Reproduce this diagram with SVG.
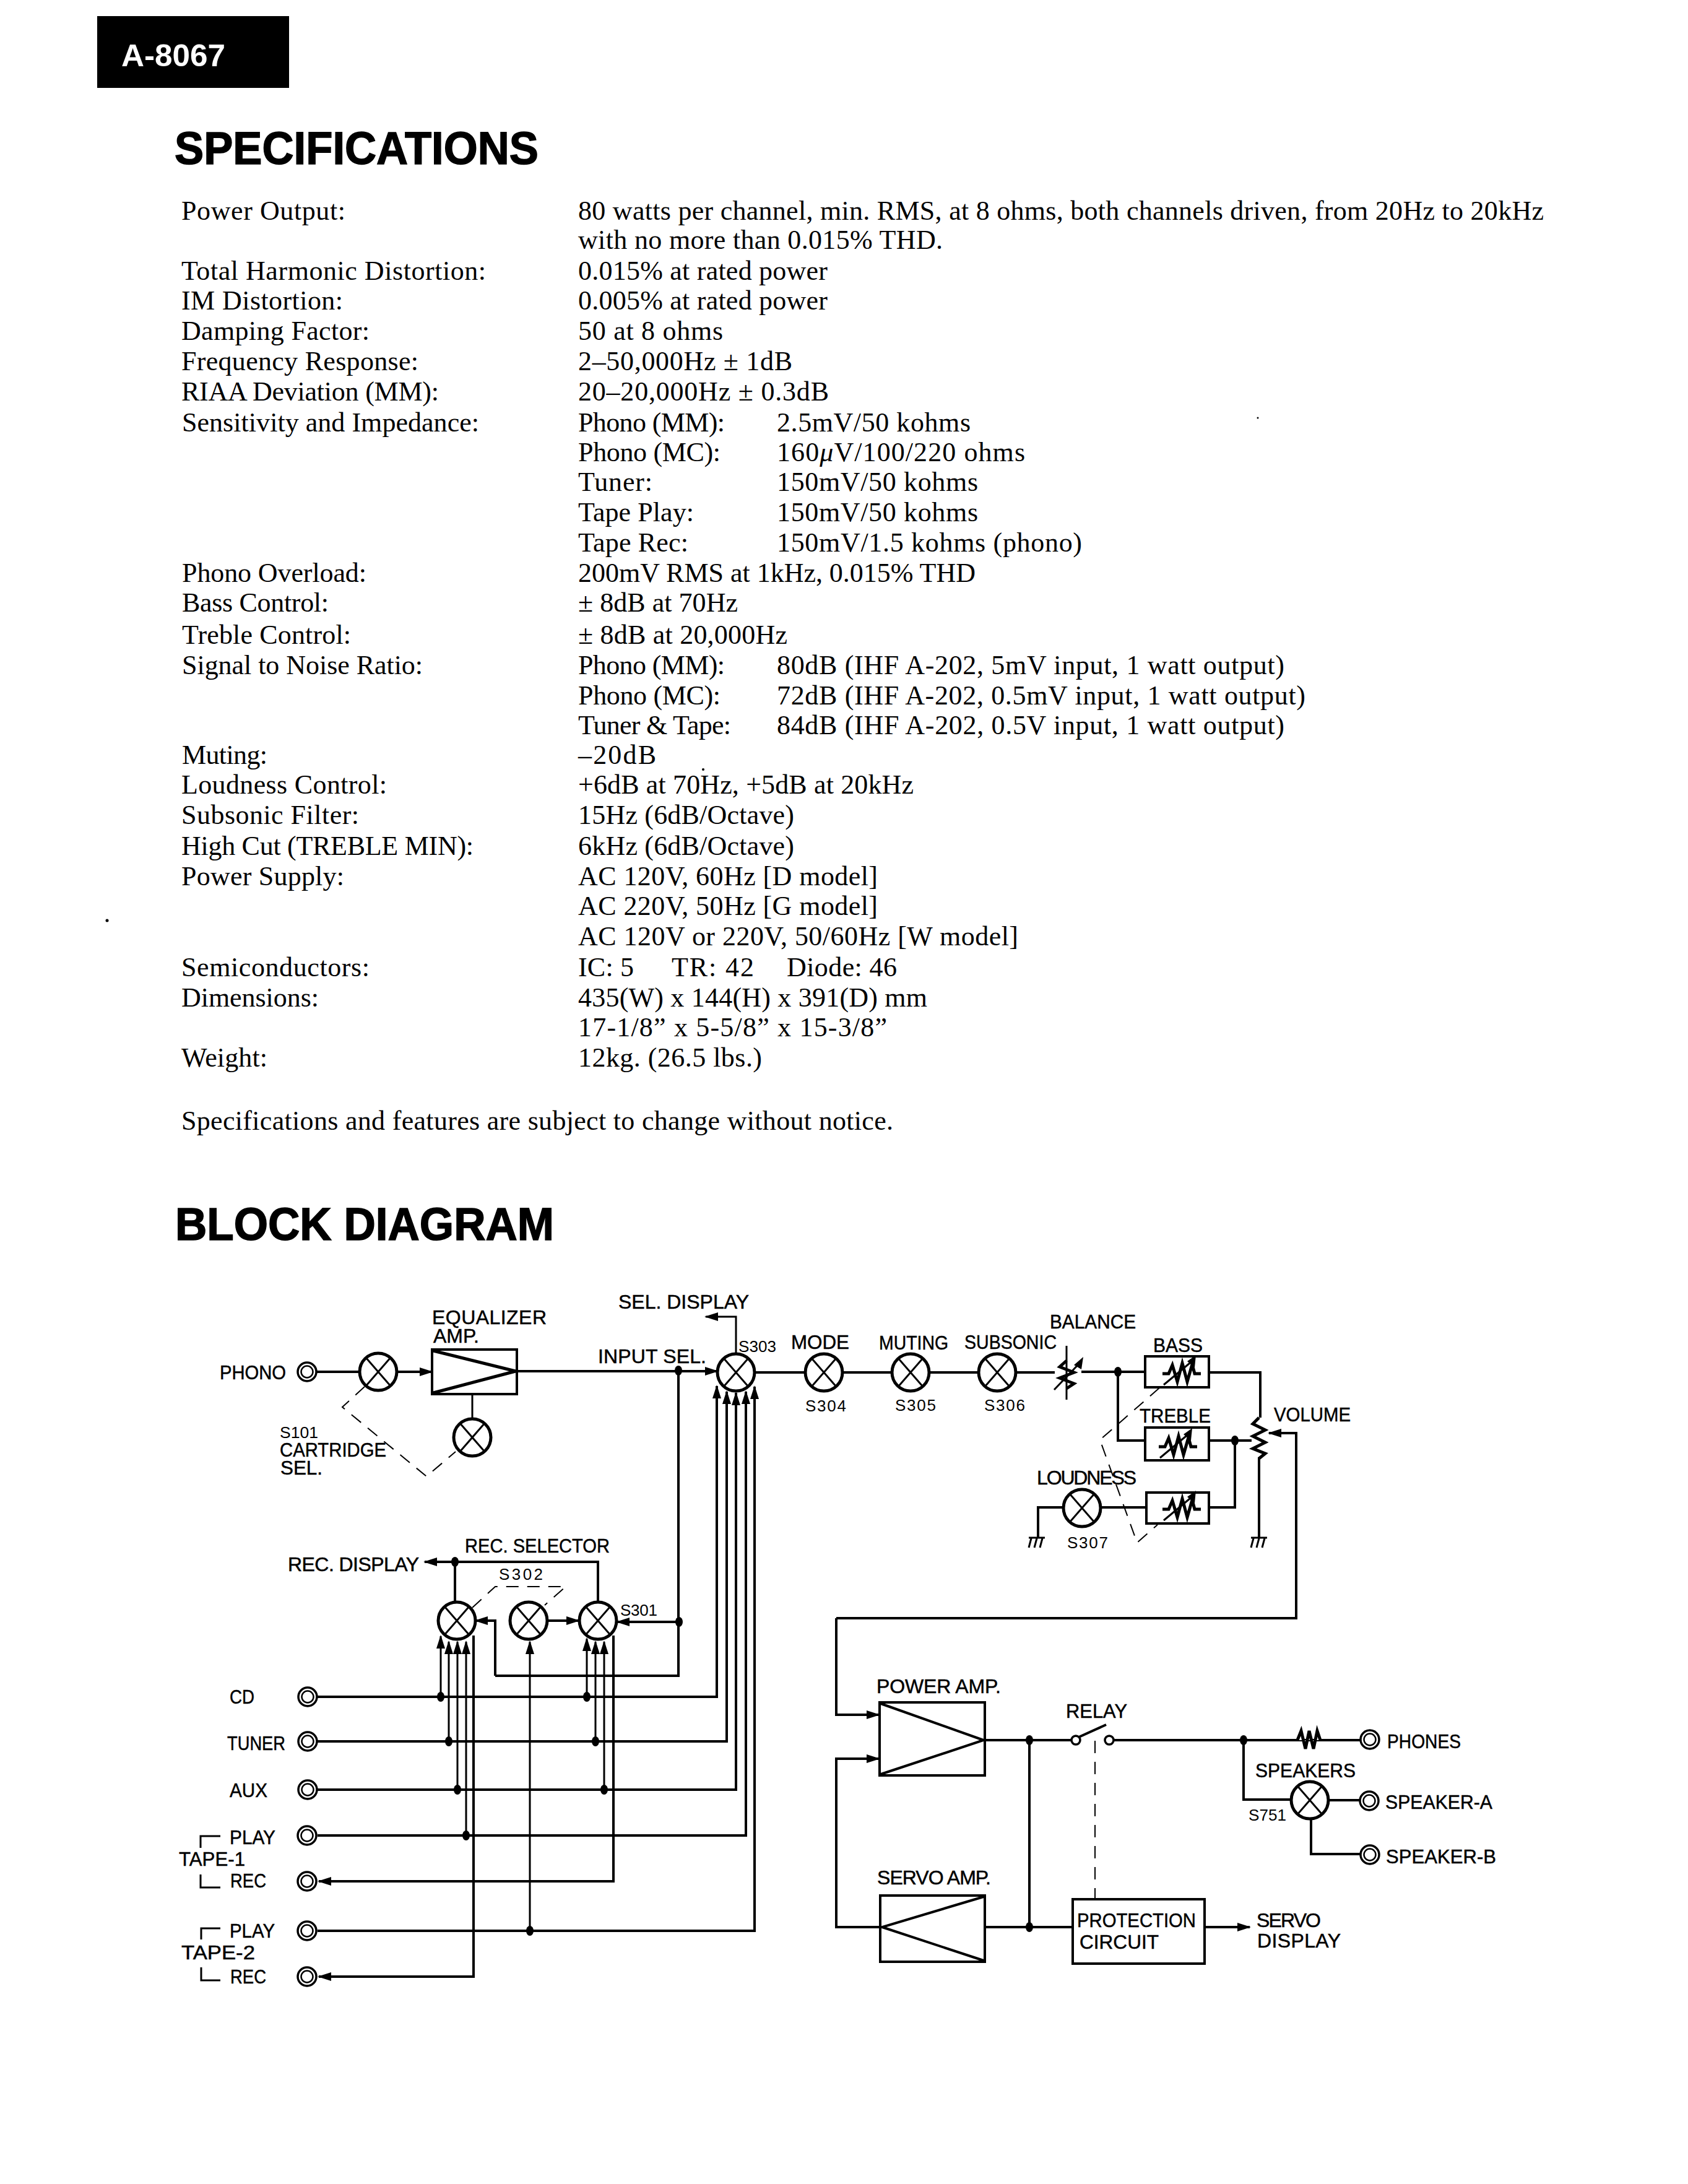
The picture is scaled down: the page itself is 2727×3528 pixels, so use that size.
<svg xmlns="http://www.w3.org/2000/svg" xmlns:xlink="http://www.w3.org/1999/xlink" width="2727" height="3528" viewBox="0 0 2727 3528">
<style>
.s{font:44px "Liberation Serif","Times New Roman",serif;fill:#000}
.h{font:bold 74px "Liberation Sans",Arial,sans-serif;fill:#000;stroke:#000;stroke-width:1.5}
.l{font:32px "Liberation Sans",Arial,sans-serif;fill:#000;stroke:#000;stroke-width:.5}
.m{font:26px "Liberation Sans",Arial,sans-serif;fill:#000}
.w{fill:none;stroke:#000;stroke-width:4;stroke-linejoin:miter}
.t{fill:none;stroke:#000;stroke-width:3}
.a{marker-end:url(#arrow)}
.d{fill:none;stroke:#000;stroke-width:2;stroke-dasharray:20 14}
.b{fill:#fff;stroke:#000;stroke-width:4}
.z{fill:none;stroke:#000;stroke-width:5}
</style>
<defs>
<marker id="arrow" markerUnits="userSpaceOnUse" markerWidth="26" markerHeight="18" refX="20" refY="9" orient="auto"><path d="M0,2 L22,9 L0,16 Z" fill="#000"/></marker>
<g id="switch"><circle r="30" fill="#fff" stroke="#000" stroke-width="5"/><path d="M-20,-23 L20,23 M20,-23 L-20,23" fill="none" stroke="#000" stroke-width="3"/></g>
<g id="jack"><circle r="15" fill="#fff" stroke="#000" stroke-width="3.5"/><circle r="9.5" fill="none" stroke="#000" stroke-width="2.5"/></g>
<g id="pot"><path d="M-30,2 L-20,2 L-14,-12 L-6,15 L2,-15 L10,15 L18,-13 L22,2 L32,2" class="z"/><path d="M-28,20 L20,-20" fill="none" stroke="#000" stroke-width="3"/><path d="M24,-28 L10,-18 L22,-8 Z" fill="#000"/></g>
<g id="ground"><path d="M-13,0 L13,0 M-9,1 L-13,16 M0,1 L-4,16 M9,1 L5,16" fill="none" stroke="#000" stroke-width="3"/></g>
<ellipse id="dot" rx="6" ry="8" fill="#000"/>
</defs>
<rect width="2727" height="3528" fill="#fff"/>

<g id="page-tag"><rect x="157" y="26" width="310" height="116" fill="#000"/><text x="196" y="107" font-family="Liberation Sans, Arial, sans-serif" font-weight="bold" font-size="50" fill="#fff" textLength="168" lengthAdjust="spacingAndGlyphs">A-8067</text></g>
<text class="h" x="282" y="265" textLength="588" lengthAdjust="spacingAndGlyphs">SPECIFICATIONS</text>
<text class="h" x="283" y="2003" textLength="612" lengthAdjust="spacingAndGlyphs">BLOCK DIAGRAM</text>

<!-- Specification table: labels -->
<g id="spec-labels">
<text class="s" x="293" y="355" textLength="265">Power Output:</text>
<text class="s" x="293" y="452" textLength="492">Total Harmonic Distortion:</text>
<text class="s" x="293" y="500" textLength="261">IM Distortion:</text>
<text class="s" x="293" y="549" textLength="304">Damping Factor:</text>
<text class="s" x="293" y="598" textLength="383">Frequency Response:</text>
<text class="s" x="293" y="647" textLength="416">RIAA Deviation (MM):</text>
<text class="s" x="294" y="697" textLength="480">Sensitivity and Impedance:</text>
<text class="s" x="294" y="940" textLength="298">Phono Overload:</text>
<text class="s" x="294" y="988" textLength="237">Bass Control:</text>
<text class="s" x="294" y="1040" textLength="273">Treble Control:</text>
<text class="s" x="294" y="1089" textLength="389">Signal to Noise Ratio:</text>
<text class="s" x="294" y="1234" textLength="138">Muting:</text>
<text class="s" x="293" y="1282" textLength="332">Loudness Control:</text>
<text class="s" x="293" y="1331" textLength="287">Subsonic Filter:</text>
<text class="s" x="293" y="1381" textLength="472">High Cut (TREBLE MIN):</text>
<text class="s" x="293" y="1430" textLength="263">Power Supply:</text>
<text class="s" x="293" y="1577" textLength="304">Semiconductors:</text>
<text class="s" x="293" y="1626" textLength="222">Dimensions:</text>
<text class="s" x="293" y="1723" textLength="139">Weight:</text>
<text class="s" x="293" y="1825" textLength="1150">Specifications and features are subject to change without notice.</text>
</g>

<!-- Specification table: values -->
<g id="spec-values">
<text class="s" x="934" y="355" textLength="1560">80 watts per channel, min. RMS, at 8 ohms, both channels driven, from 20Hz to 20kHz</text>
<text class="s" x="934" y="402" textLength="589">with no more than 0.015% THD.</text>
<text class="s" x="934" y="452" textLength="403">0.015% at rated power</text>
<text class="s" x="934" y="500" textLength="403">0.005% at rated power</text>
<text class="s" x="934" y="549" textLength="234">50 at 8 ohms</text>
<text class="s" x="934" y="598" textLength="346">2–50,000Hz ± 1dB</text>
<text class="s" x="934" y="647" textLength="405">20–20,000Hz ± 0.3dB</text>
<text class="s" x="934" y="697" textLength="237">Phono (MM):</text>
<text class="s" x="1255" y="697" textLength="313">2.5mV/50 kohms</text>
<text class="s" x="934" y="745" textLength="230">Phono (MC):</text>
<text class="s" x="1255" y="745" textLength="401">160<tspan font-style="italic">μ</tspan>V/100/220 ohms</text>
<text class="s" x="934" y="793" textLength="120">Tuner:</text>
<text class="s" x="1255" y="793" textLength="325">150mV/50 kohms</text>
<text class="s" x="934" y="842" textLength="187">Tape Play:</text>
<text class="s" x="1255" y="842" textLength="325">150mV/50 kohms</text>
<text class="s" x="934" y="891" textLength="178">Tape Rec:</text>
<text class="s" x="1255" y="891" textLength="493">150mV/1.5 kohms (phono)</text>
<text class="s" x="934" y="940" textLength="642">200mV RMS at 1kHz, 0.015% THD</text>
<text class="s" x="934" y="988" textLength="258">± 8dB at 70Hz</text>
<text class="s" x="934" y="1040" textLength="338">± 8dB at 20,000Hz</text>
<text class="s" x="934" y="1089" textLength="237">Phono (MM):</text>
<text class="s" x="1255" y="1089" textLength="820">80dB (IHF A-202, 5mV input, 1 watt output)</text>
<text class="s" x="934" y="1138" textLength="230">Phono (MC):</text>
<text class="s" x="1255" y="1138" textLength="854">72dB (IHF A-202, 0.5mV input, 1 watt output)</text>
<text class="s" x="934" y="1186" textLength="247">Tuner &amp; Tape:</text>
<text class="s" x="1255" y="1186" textLength="820">84dB (IHF A-202, 0.5V input, 1 watt output)</text>
<text class="s" x="934" y="1234" textLength="126">–20dB</text>
<text class="s" x="934" y="1282" textLength="542">+6dB at 70Hz, +5dB at 20kHz</text>
<text class="s" x="934" y="1331" textLength="349">15Hz (6dB/Octave)</text>
<text class="s" x="934" y="1381" textLength="349">6kHz (6dB/Octave)</text>
<text class="s" x="934" y="1430" textLength="484">AC 120V, 60Hz [D model]</text>
<text class="s" x="934" y="1478" textLength="484">AC 220V, 50Hz [G model]</text>
<text class="s" x="934" y="1527" textLength="711">AC 120V or 220V, 50/60Hz [W model]</text>
<text class="s" x="934" y="1577" textLength="90">IC: 5</text>
<text class="s" x="1085" y="1577" textLength="133">TR: 42</text>
<text class="s" x="1271" y="1577" textLength="178">Diode: 46</text>
<text class="s" x="934" y="1626" textLength="564">435(W) x 144(H) x 391(D) mm</text>
<text class="s" x="934" y="1674" textLength="499">17-1/8” x 5-5/8” x 15-3/8”</text>
<text class="s" x="934" y="1723" textLength="297">12kg. (26.5 lbs.)</text>
</g>
<circle cx="2032" cy="675" r="1.5" fill="#000"/>
<circle cx="173" cy="1487" r="2.5" fill="#000"/>
<circle cx="1136" cy="1243" r="2" fill="#000"/>

<!-- Signal wiring -->
<g id="connectors">
<path class="w" d="M511,2216 H580"/>
<path class="w a" d="M640,2216 H698"/>
<path class="w a" d="M835,2215 H1159"/>
<path class="t" d="M763,2252 V2291"/>
<path class="t a" d="M1189,2186 V2127 H1140"/>
<path class="w" d="M1220,2217 H1300 M1361,2217 H1441 M1501,2217 H1581 M1641,2217 H1704 M1747,2216 H1850"/>
<path class="w" d="M1806,2216 V2327 H1850"/>
<path class="w" d="M1953,2217 H2036 V2290"/>
<path class="w" d="M1953,2327 H2022"/>
<path class="w" d="M1995,2327 V2435 H1953"/>
<path class="w" d="M1780,2435 H1852"/>
<path class="w" d="M1717,2435 H1677 V2484"/>
<path class="w" d="M2034,2354 V2484"/>
<path class="w a" d="M1351,2614 H2094 V2315 H2050"/>
<path class="w a" d="M1351,2614 V2770 H1420"/>
<path class="w a" d="M1422,3113 H1351 V2841 H1420"/>
<path class="w" d="M1591,2811 H1731"/>
<path class="w" d="M1799,2811 H2199"/>
<path class="w" d="M1663,2811 V3113"/>
<path class="w" d="M1591,3113 H1733"/>
<path class="w a" d="M1946,3113 H2019"/>
<path class="w" d="M2009,2811 V2907 H2086"/>
<path class="w" d="M2146,2908 H2199"/>
<path class="w" d="M2118,2939 V2995 H2199"/>

<path class="w" d="M1096,2215 V2707 H800"/>
<path class="w a" d="M800,2707 V2618 H768"/>
<path class="w a" d="M1097,2620 H997"/>
<path class="w a" d="M884,2618 H935"/>
<path class="w a" d="M966,2587 V2523 H686"/>
<path class="w" d="M735,2523 V2588"/>

<path class="w a" d="M513,2741 H1158 V2239"/>
<path class="w a" d="M513,2813 H1174 V2248"/>
<path class="w a" d="M513,2891 H1189 V2250"/>
<path class="w a" d="M513,2965 H1205 V2248"/>
<path class="w a" d="M513,3119 H1219 V2240"/>
<path class="w a" d="M991,2642 V3039 H515"/>
<path class="w a" d="M765,2642 V3193 H515"/>
<path class="t a" d="M712,2741 V2643"/>
<path class="t a" d="M725,2813 V2652"/>
<path class="t a" d="M739,2891 V2652"/>
<path class="t a" d="M753,2965 V2652"/>
<path class="t a" d="M856,3119 V2652"/>
<path class="t a" d="M948,2741 V2647"/>
<path class="t a" d="M962,2813 V2652"/>
<path class="t a" d="M976,2891 V2652"/>

<use href="#dot" x="1096" y="2214"/><use href="#dot" x="1097" y="2620"/><use href="#dot" x="735" y="2523"/>
<use href="#dot" x="712" y="2741"/><use href="#dot" x="948" y="2741"/><use href="#dot" x="725" y="2813"/><use href="#dot" x="962" y="2813"/>
<use href="#dot" x="739" y="2891"/><use href="#dot" x="976" y="2891"/><use href="#dot" x="753" y="2965"/><use href="#dot" x="856" y="3119"/>
<use href="#dot" x="1806" y="2216"/><use href="#dot" x="1995" y="2327"/><use href="#dot" x="1663" y="2811"/><use href="#dot" x="1663" y="3113"/><use href="#dot" x="2009" y="2811"/>
</g>

<!-- Mechanical ganging of switches and controls -->
<g id="ganging">
<path class="d" d="M589,2240 L553,2273 L689,2385 L736,2345"/>
<path class="d" d="M763,2597 L800,2563 H914 L880,2593"/>
<path class="d" d="M1873,2242 L1777,2326 L1837,2492 L1870,2463"/>
<path class="d" d="M1769,2812 V3068"/>
</g>

<g id="phono"><use href="#jack" x="496" y="2216"/><text class="l" x="355" y="2228" textLength="107" lengthAdjust="spacingAndGlyphs">PHONO</text></g>
<g id="s101-a"><use href="#switch" x="611" y="2216"/></g>
<g id="s101-b"><use href="#switch" x="763" y="2322"/></g>
<g id="s101-label"><text class="m" x="452" y="2323" textLength="62" lengthAdjust="spacingAndGlyphs">S101</text><text class="l" x="452" y="2353" textLength="172" lengthAdjust="spacingAndGlyphs">CARTRIDGE</text><text class="l" x="453" y="2382" textLength="68" lengthAdjust="spacingAndGlyphs">SEL.</text></g>
<g id="equalizer-amp"><rect class="b" x="698" y="2180" width="137" height="72"/><path class="z" d="M700,2182 L833,2215 L700,2250"/><text class="l" x="698" y="2139" textLength="185" lengthAdjust="spacing">EQUALIZER</text><text class="l" x="700" y="2169" textLength="74" lengthAdjust="spacingAndGlyphs">AMP.</text></g>
<g id="s303"><use href="#switch" x="1189" y="2217"/><text class="m" x="1193" y="2184" textLength="61" lengthAdjust="spacingAndGlyphs">S303</text><text class="l" x="966" y="2202" textLength="175" lengthAdjust="spacing">INPUT SEL.</text><text class="l" x="999" y="2114" textLength="211" lengthAdjust="spacing">SEL. DISPLAY</text></g>
<g id="s304"><use href="#switch" x="1331" y="2217"/><text class="l" x="1278" y="2179" textLength="94" lengthAdjust="spacingAndGlyphs">MODE</text><text class="m" x="1301" y="2280" textLength="66" lengthAdjust="spacing">S304</text></g>
<g id="s305"><use href="#switch" x="1471" y="2217"/><text class="l" x="1420" y="2180" textLength="112" lengthAdjust="spacingAndGlyphs">MUTING</text><text class="m" x="1446" y="2279" textLength="66" lengthAdjust="spacing">S305</text></g>
<g id="s306"><use href="#switch" x="1611" y="2217"/><text class="l" x="1558" y="2179" textLength="149" lengthAdjust="spacingAndGlyphs">SUBSONIC</text><text class="m" x="1590" y="2279" textLength="66" lengthAdjust="spacing">S306</text></g>
<g id="balance"><path class="t" d="M1723,2174 V2261"/><path class="z" d="M1723,2198 L1712,2208 L1735,2217 L1712,2226 L1735,2235 L1723,2243"/><path class="t" d="M1703,2245 L1746,2200"/><path d="M1750,2192 L1735,2205 L1747,2212 Z" fill="#000"/><text class="l" x="1696" y="2146" textLength="139" lengthAdjust="spacingAndGlyphs">BALANCE</text></g>
<g id="bass"><rect class="b" x="1850" y="2191" width="103" height="50"/><use href="#pot" x="1908" y="2217"/><text class="l" x="1863" y="2184" textLength="80" lengthAdjust="spacingAndGlyphs">BASS</text></g>
<g id="treble"><rect class="b" x="1850" y="2306" width="103" height="53"/><use href="#pot" x="1902" y="2335"/><text class="l" x="1841" y="2298" textLength="115" lengthAdjust="spacingAndGlyphs">TREBLE</text></g>
<g id="loudness-filter"><rect class="b" x="1852" y="2411" width="101" height="50"/><use href="#pot" x="1908" y="2436"/></g>
<g id="s307"><use href="#switch" x="1748" y="2436"/><text class="l" x="1675" y="2398" textLength="161" lengthAdjust="spacing">LOUDNESS</text><text class="m" x="1724" y="2501" textLength="66" lengthAdjust="spacing">S307</text><use href="#ground" x="1675" y="2484"/></g>
<g id="volume"><path class="z" d="M2034,2290 L2024,2300 L2044,2310 L2024,2320 L2044,2330 L2024,2340 L2044,2348 L2034,2356"/><text class="l" x="2058" y="2296" textLength="124" lengthAdjust="spacingAndGlyphs">VOLUME</text><use href="#ground" x="2034" y="2484"/></g>

<g id="rec-selector"><use href="#switch" x="738" y="2618"/><use href="#switch" x="854" y="2618"/><use href="#switch" x="966" y="2618"/><text class="l" x="751" y="2508" textLength="234" lengthAdjust="spacingAndGlyphs">REC. SELECTOR</text><text class="l" x="465" y="2538" textLength="212" lengthAdjust="spacing">REC. DISPLAY</text><text class="m" x="806" y="2552" textLength="71" lengthAdjust="spacing">S302</text><text class="m" x="1002" y="2610" textLength="60" lengthAdjust="spacing">S301</text></g>

<g id="cd"><use href="#jack" x="497" y="2741"/><text class="l" x="371" y="2752" textLength="40" lengthAdjust="spacingAndGlyphs">CD</text></g>
<g id="tuner"><use href="#jack" x="497" y="2813"/><text class="l" x="367" y="2827" textLength="94" lengthAdjust="spacingAndGlyphs">TUNER</text></g>
<g id="aux"><use href="#jack" x="497" y="2891"/><text class="l" x="371" y="2903" textLength="61" lengthAdjust="spacingAndGlyphs">AUX</text></g>
<g id="tape-1"><use href="#jack" x="496" y="2965"/><use href="#jack" x="496" y="3039"/><path class="t" d="M324,2985 V2966 H356 M324,3028 V3049 H356"/><text class="l" x="371" y="2979" textLength="74" lengthAdjust="spacingAndGlyphs">PLAY</text><text class="l" x="289" y="3014" textLength="107" lengthAdjust="spacingAndGlyphs">TAPE-1</text><text class="l" x="372" y="3049" textLength="58" lengthAdjust="spacingAndGlyphs">REC</text></g>
<g id="tape-2"><use href="#jack" x="496" y="3119"/><use href="#jack" x="496" y="3193"/><path class="t" d="M325,3133 V3115 H356 M325,3178 V3199 H356"/><text class="l" x="371" y="3130" textLength="73" lengthAdjust="spacingAndGlyphs">PLAY</text><text class="l" x="293" y="3165" textLength="119" lengthAdjust="spacingAndGlyphs">TAPE-2</text><text class="l" x="372" y="3204" textLength="58" lengthAdjust="spacingAndGlyphs">REC</text></g>

<g id="power-amp"><rect class="b" x="1421" y="2750" width="170" height="118"/><path class="w" d="M1423,2752 L1589,2811 L1423,2866"/><text class="l" x="1416" y="2735" textLength="201" lengthAdjust="spacing">POWER AMP.</text></g>
<g id="servo-amp"><rect class="b" x="1422" y="3062" width="169" height="107"/><path class="w" d="M1589,3064 L1425,3113 L1589,3167"/><text class="l" x="1417" y="3044" textLength="184" lengthAdjust="spacing">SERVO AMP.</text></g>
<g id="relay"><circle cx="1738" cy="2811" r="7" fill="#fff" stroke="#000" stroke-width="3.5"/><circle cx="1792" cy="2811" r="7" fill="#fff" stroke="#000" stroke-width="3.5"/><path class="w" d="M1743,2806 L1787,2786"/><text class="l" x="1722" y="2775" textLength="99" lengthAdjust="spacingAndGlyphs">RELAY</text></g>
<g id="protection-circuit"><rect class="b" x="1733" y="3068" width="213" height="104"/><text class="l" x="1740" y="3113" textLength="192" lengthAdjust="spacingAndGlyphs">PROTECTION</text><text class="l" x="1744" y="3148" textLength="128" lengthAdjust="spacingAndGlyphs">CIRCUIT</text></g>
<g id="servo-display"><text class="l" x="2030" y="3113" textLength="104" lengthAdjust="spacing">SERVO</text><text class="l" x="2031" y="3146" textLength="135" lengthAdjust="spacing">DISPLAY</text></g>
<g id="phones"><path d="M2096,2811 L2102,2796 L2109,2825 L2115,2796 L2122,2825 L2128,2796 L2133,2811" fill="#fff" stroke="#000" stroke-width="5"/><use href="#jack" x="2213" y="2810"/><text class="l" x="2241" y="2824" textLength="119" lengthAdjust="spacingAndGlyphs">PHONES</text></g>
<g id="s751"><use href="#switch" x="2116" y="2908"/><text class="l" x="2028" y="2871" textLength="162" lengthAdjust="spacingAndGlyphs">SPEAKERS</text><text class="m" x="2017" y="2941" textLength="61" lengthAdjust="spacingAndGlyphs">S751</text></g>
<g id="speaker-a"><use href="#jack" x="2212" y="2909"/><text class="l" x="2238" y="2922" textLength="173" lengthAdjust="spacingAndGlyphs">SPEAKER-A</text></g>
<g id="speaker-b"><use href="#jack" x="2213" y="2996"/><text class="l" x="2239" y="3010" textLength="178" lengthAdjust="spacingAndGlyphs">SPEAKER-B</text></g>
</svg>
